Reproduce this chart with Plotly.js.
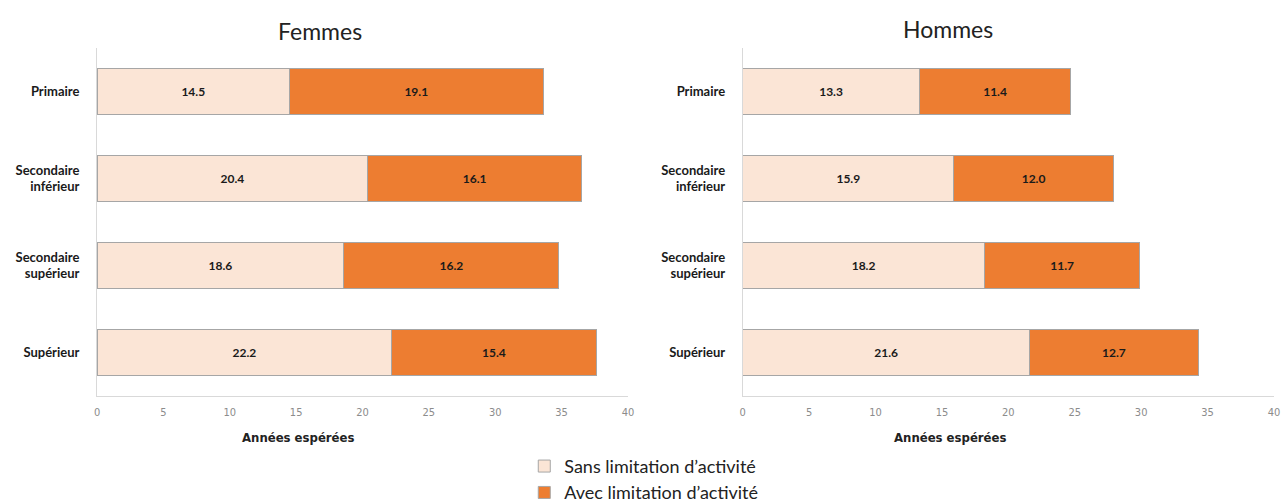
<!DOCTYPE html>
<html>
<head>
<meta charset="utf-8">
<script src="https://cdn.plot.ly/plotly-3.0.1.min.js"></script>
<style>html,body{margin:0;padding:0;background:#fff;}#chart{width:1285px;height:504px;}</style>
</head>
<body>
<div id="chart"></div>
<script>
const categories = ["Primaire", "Secondaire<br>inférieur", "Secondaire<br>supérieur", "Supérieur"];
const femmesSans = [14.5, 20.4, 18.6, 22.2];
const femmesAvec = [19.1, 16.1, 16.2, 15.4];
const hommesSans = [13.3, 15.9, 18.2, 21.6];
const hommesAvec = [11.4, 12.0, 11.7, 12.7];
const seriesNames = ["Sans limitation d’activité", "Avec limitation d’activité"];
const panelTitles = ["Femmes", "Hommes"];
const axisTitle = "Années espérées";
const tickVals = [0, 5, 10, 15, 20, 25, 30, 35, 40];

const lightCol = "#FBE5D6";
const darkCol = "#ED7D31";
const outline = "#A6A6A6";
const labelFont = {family: "Lato, 'Open Sans', sans-serif", size: 12, color: "#1a1a1a"};

function barTrace(vals, name, color, xa, ya, show) {
  return {
    type: "bar", orientation: "h", x: vals, y: categories, name: name,
    xaxis: xa, yaxis: ya, showlegend: show, legendgroup: name,
    marker: {color: color, line: {color: outline, width: 1}},
    text: vals.map(v => "<b>" + v.toFixed(1) + "</b>"),
    textposition: "inside", insidetextanchor: "middle",
    textfont: labelFont, hoverinfo: "x+y"
  };
}

const data = [
  barTrace(femmesSans, seriesNames[0], lightCol, "x", "y", true),
  barTrace(femmesAvec, seriesNames[1], darkCol, "x", "y", true),
  barTrace(hommesSans, seriesNames[0], lightCol, "x2", "y2", false),
  barTrace(hommesAvec, seriesNames[1], darkCol, "x2", "y2", false)
];

const xBase = {
  range: [0, 40], tickvals: tickVals, showgrid: false, zeroline: false,
  showline: true, linecolor: "#D9D9D9", linewidth: 1, ticks: "", ticklabelstandoff: 6,
  tickfont: {family: "'Liberation Sans Narrow', 'DejaVu Sans Condensed', sans-serif", size: 11, color: "#8c8c8c"},
  fixedrange: true, automargin: false
};
const yBase = {
  categoryorder: "array", categoryarray: categories, autorange: "reversed",
  showgrid: false, zeroline: false, showline: true, linecolor: "#D9D9D9", linewidth: 1,
  ticks: "", ticklabelstandoff: 14, automargin: false,
  tickfont: {family: "Lato, 'Open Sans', sans-serif", size: 13, color: "#1a1a1a", weight: "bold"},
  fixedrange: true
};

const layout = {
  width: 1285, height: 504,
  margin: {l: 0, r: 0, t: 48, b: 108, autoexpand: false},
  paper_bgcolor: "#fff", plot_bgcolor: "#fff",
  barmode: "stack", bargap: 0.48,
  showlegend: true,
  legend: {
    orientation: "v", x: 0.408, xanchor: "left", y: -0.149, yanchor: "top",
    font: {family: "Lato, 'Open Sans', sans-serif", size: 18, color: "#222"},
    traceorder: "normal", bgcolor: "rgba(0,0,0,0)"
  },
  xaxis: Object.assign({}, xBase, {domain: [0.0755, 0.4887], anchor: "y"}),
  yaxis: Object.assign({}, yBase, {domain: [0, 1], anchor: "x"}),
  xaxis2: Object.assign({}, xBase, {domain: [0.578, 0.9914], anchor: "y2"}),
  yaxis2: Object.assign({}, yBase, {domain: [0, 1], anchor: "x2"}),
  annotations: [
    {text: panelTitles[0], xref: "paper", yref: "paper", x: 320/1285, y: (396-31)/348, xanchor: "center", yanchor: "middle", showarrow: false,
     font: {family: "Lato, 'Open Sans', sans-serif", size: 23, color: "#222"}},
    {text: panelTitles[1], xref: "paper", yref: "paper", x: 948/1285, y: (396-29)/348, xanchor: "center", yanchor: "middle", showarrow: false,
     font: {family: "Lato, 'Open Sans', sans-serif", size: 23, color: "#222"}},
    {text: "<b>" + axisTitle + "</b>", xref: "paper", yref: "paper", x: 298/1285, y: (396-437)/348, xanchor: "center", yanchor: "middle", showarrow: false,
     font: {family: "'Liberation Sans Narrow', 'DejaVu Sans Condensed', sans-serif", size: 13, color: "#222"}},
    {text: "<b>" + axisTitle + "</b>", xref: "paper", yref: "paper", x: 950/1285, y: (396-437)/348, xanchor: "center", yanchor: "middle", showarrow: false,
     font: {family: "'Liberation Sans Narrow', 'DejaVu Sans Condensed', sans-serif", size: 13, color: "#222"}}
  ]
};

Plotly.newPlot("chart", data, layout, {displayModeBar: false, staticPlot: true});
</script>
</body>
</html>
